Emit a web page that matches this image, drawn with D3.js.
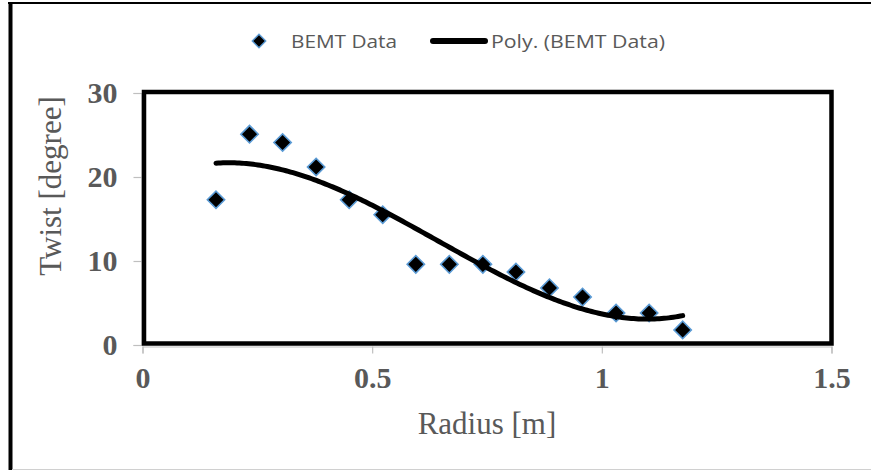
<!DOCTYPE html>
<html>
<head>
<meta charset="utf-8">
<script src="https://cdn.jsdelivr.net/npm/d3@7"></script>
<style>
  html, body { margin: 0; padding: 0; background: #fff; }
  svg { display: block; }
</style>
</head>
<body>
<svg id="chart" width="871" height="471"></svg>
<script>
// Blade twist distribution from the BEMT calculation
const radius = [0.160, 0.233, 0.305, 0.378, 0.450, 0.523, 0.595, 0.668, 0.741, 0.813, 0.886, 0.958, 1.031, 1.103, 1.176];
const twist  = [17.3, 25.1, 24.1, 21.2, 17.3, 15.5, 9.6, 9.6, 9.6, 8.7, 6.8, 5.7, 3.8, 3.8, 1.8];
const xTicks = [0, 0.5, 1, 1.5];
const yTicks = [0, 10, 20, 30];
const seriesName = "BEMT Data";
const trendName = "Poly. (BEMT Data)";
const trendOrder = 3;

const svg = d3.select("#chart");
const W = 871, H = 471;
const plot = { left: 142.5, right: 831.5, top: 93, bottom: 345 };

const x = d3.scaleLinear().domain([0, 1.5]).range([plot.left, plot.right]);
const y = d3.scaleLinear().domain([0, 30]).range([plot.bottom, plot.top]);

const grey = "#595959";
const serif = "'Liberation Serif', 'Times New Roman', serif";
const sans = "'Open Sans', 'Noto Sans', sans-serif";

svg.append("rect").attr("width", W).attr("height", H).attr("fill", "#fff");

// chart frame
svg.append("line").attr("x1", 8).attr("x2", W).attr("y1", 3).attr("y2", 3)
  .attr("stroke", "#000").attr("stroke-width", 2);
svg.append("line").attr("x1", 10.5).attr("x2", 10.5).attr("y1", 2).attr("y2", 470)
  .attr("stroke", "#000").attr("stroke-width", 4);
svg.append("line").attr("x1", 12).attr("x2", W).attr("y1", 469.5).attr("y2", 469.5)
  .attr("stroke", "#d0d0d0").attr("stroke-width", 1);

// axes (thin grey lines with outward ticks)
const xAxis = d3.axisBottom(x).tickValues(xTicks).tickSize(7).tickFormat(d3.format("~g"));
const yAxis = d3.axisLeft(y).tickValues(yTicks).tickSize(8).tickFormat(d3.format("d"));

const gx = svg.append("g").attr("transform", `translate(0,${plot.bottom + 1.5})`).call(xAxis);
const gy = svg.append("g").attr("transform", `translate(${plot.left - 1},0)`).call(yAxis);

[gx, gy].forEach(g => {
  g.select(".domain").attr("stroke", "#bfbfbf").attr("stroke-width", 1.2);
  g.selectAll(".tick line").attr("stroke", "#bfbfbf").attr("stroke-width", 1.2);
  g.selectAll(".tick text")
    .attr("fill", grey)
    .attr("font-family", serif)
    .attr("font-weight", "bold")
    .attr("font-size", 30);
});
gx.selectAll(".tick text").attr("y", 0).attr("dy", 0).attr("transform", "translate(0,41)");
gy.selectAll(".tick text").attr("x", -24).attr("dy", "0.3em");

// plot area border
svg.append("rect")
  .attr("x", plot.left + 1.5).attr("y", plot.top - 1)
  .attr("width", plot.right - plot.left - 1.5).attr("height", plot.bottom - plot.top - 0.5)
  .attr("fill", "none").attr("stroke", "#000").attr("stroke-width", 4.5);

// least-squares polynomial trendline (normal equations, Gaussian elimination)
function polyFit(xs, ys, order) {
  var n = order + 1, i, j, k, c, r;
  var M = [];
  for (i = 0; i < n; i++) { M.push([]); for (j = 0; j <= n; j++) M[i].push(0); }
  for (k = 0; k < xs.length; k++) {
    for (i = 0; i < n; i++) {
      for (j = 0; j < n; j++) M[i][j] = M[i][j] + Math.pow(xs[k], i + j);
      M[i][n] = M[i][n] + ys[k] * Math.pow(xs[k], i);
    }
  }
  for (c = 0; c < n; c++) {
    for (r = c + 1; r < n; r++) {
      var f = M[r][c] / M[c][c];
      for (j = c; j <= n; j++) M[r][j] = M[r][j] - f * M[c][j];
    }
  }
  var out = new Array(n).fill(0);
  for (i = n - 1; i >= 0; i--) {
    var s = M[i][n];
    for (j = i + 1; j < n; j++) s = s - M[i][j] * out[j];
    out[i] = s / M[i][i];
  }
  return out;
}
const coef = polyFit(radius, twist, trendOrder);
function evalPoly(r) {
  var s = 0;
  for (var i = 0; i < coef.length; i++) s += coef[i] * Math.pow(r, i);
  return s;
}
const rMin = d3.min(radius), rMax = d3.max(radius);
const trend = d3.range(0, 201).map(function (i) {
  const r = rMin + (rMax - rMin) * i / 200;
  return [r, evalPoly(r)];
});

// data markers
const diamond = d3.symbol(d3.symbolSquare, 150);
svg.append("g").selectAll("path")
  .data(radius.map((r, i) => [r, twist[i]]))
  .join("path")
  .attr("d", diamond)
  .attr("transform", d => `translate(${x(d[0])},${y(d[1])}) rotate(45)`)
  .attr("fill", "#000")
  .attr("stroke", "#5b9bd5")
  .attr("stroke-width", 1.6);

svg.append("path")
  .datum(trend)
  .attr("d", d3.line().x(d => x(d[0])).y(d => y(d[1])))
  .attr("fill", "none")
  .attr("stroke", "#000")
  .attr("stroke-width", 5)
  .attr("stroke-linecap", "round")
  .attr("stroke-linejoin", "round");

// axis titles
svg.append("text")
  .attr("x", (plot.left + plot.right) / 2).attr("y", 434)
  .attr("text-anchor", "middle")
  .attr("font-family", serif).attr("font-size", 31).attr("fill", grey)
  .text("Radius [m]");
svg.append("text")
  .attr("transform", "translate(61,186) rotate(-90)")
  .attr("text-anchor", "middle")
  .attr("font-family", serif).attr("font-size", 31).attr("fill", grey)
  .text("Twist [degree]");

// legend
const legend = svg.append("g");
legend.append("path")
  .attr("d", d3.symbol(d3.symbolSquare, 90))
  .attr("transform", "translate(259,41) rotate(45)")
  .attr("fill", "#000").attr("stroke", "#5b9bd5").attr("stroke-width", 1.4);
legend.append("text")
  .attr("x", 291).attr("y", 47.5)
  .attr("font-family", sans).attr("font-size", 17.5).attr("fill", grey)
  .attr("textLength", 106).attr("lengthAdjust", "spacingAndGlyphs")
  .text(seriesName);
legend.append("line")
  .attr("x1", 433).attr("x2", 485).attr("y1", 41).attr("y2", 41)
  .attr("stroke", "#000").attr("stroke-width", 6).attr("stroke-linecap", "round");
legend.append("text")
  .attr("x", 491).attr("y", 47.5)
  .attr("font-family", sans).attr("font-size", 17.5).attr("fill", grey)
  .attr("textLength", 174).attr("lengthAdjust", "spacingAndGlyphs")
  .text(trendName);
</script>
</body>
</html>
